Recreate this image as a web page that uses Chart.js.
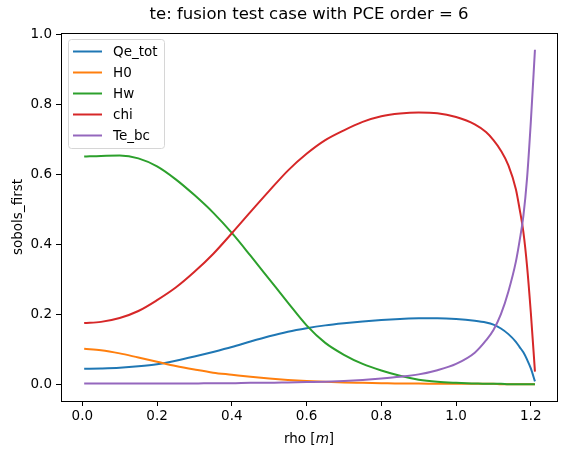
<!DOCTYPE html>
<html>
<head>
<meta charset="utf-8">
<script src="https://cdn.jsdelivr.net/npm/chart.js@4/dist/chart.umd.min.js"></script>
<style>
  html, body { margin: 0; padding: 0; background: #fff; }
  #wrap { width: 567px; height: 457px; }
</style>
</head>
<body>
<div id="wrap"><canvas id="c1" width="567" height="457"></canvas></div>
<script>
// rho values (m)
let rho = [0.005, 0.05, 0.1, 0.15, 0.2, 0.25, 0.3, 0.35, 0.4, 0.45, 0.5, 0.55, 0.6, 0.65, 0.7, 0.75,
           0.8, 0.85, 0.9, 0.95, 1.0, 1.05, 1.08, 1.1, 1.12, 1.14, 1.16, 1.17, 1.18, 1.19, 1.2, 1.211];

let qeTot = [0.044, 0.045, 0.047, 0.051, 0.057, 0.067, 0.079, 0.092, 0.106, 0.122, 0.137, 0.150, 0.160, 0.168, 0.174, 0.179,
             0.183, 0.186, 0.188, 0.188, 0.186, 0.181, 0.176, 0.170, 0.159, 0.143, 0.121, 0.106, 0.091, 0.070, 0.045, 0.008];
let h0 = [0.101, 0.097, 0.088, 0.076, 0.064, 0.052, 0.042, 0.033, 0.027, 0.021, 0.016, 0.012, 0.009, 0.007, 0.005, 0.004,
          0.003, 0.002, 0.002, 0.001, 0.001, 0.001, 0.001, 0.001, 0.0, 0.0, 0.0, 0.0, 0.0, 0.0, 0.0, 0.0];
let hw = [0.650, 0.652, 0.653, 0.645, 0.622, 0.585, 0.540, 0.490, 0.432, 0.367, 0.300, 0.233, 0.168, 0.118, 0.084, 0.058,
          0.039, 0.024, 0.013, 0.007, 0.004, 0.002, 0.001, 0.001, 0.001, 0.0, 0.0, 0.0, 0.0, 0.0, 0.0, 0.0];
let chi = [0.175, 0.178, 0.189, 0.209, 0.240, 0.276, 0.321, 0.372, 0.431, 0.492, 0.552, 0.610, 0.658, 0.697, 0.725, 0.749,
           0.765, 0.773, 0.776, 0.774, 0.763, 0.742, 0.720, 0.697, 0.667, 0.625, 0.557, 0.500, 0.435, 0.336, 0.204, 0.036];
let teBc = [0.002, 0.002, 0.002, 0.002, 0.002, 0.002, 0.002, 0.003, 0.003, 0.004, 0.004, 0.005, 0.006, 0.007, 0.009, 0.012,
            0.016, 0.021, 0.028, 0.040, 0.058, 0.090, 0.125, 0.155, 0.200, 0.265, 0.350, 0.410, 0.480, 0.590, 0.750, 0.955];

let names = ['Qe_tot', 'H0', 'Hw', 'chi', 'Te_bc'];
let colors = ['#1f77b4', '#ff7f0e', '#2ca02c', '#d62728', '#9467bd'];
let series = [qeTot, h0, hw, chi, teBc];

let xTicks = [0, 0.2, 0.4, 0.6, 0.8, 1.0, 1.2];
let yTicks = [0, 0.2, 0.4, 0.6, 0.8, 1.0];

let font = "'DejaVu Sans', sans-serif";

{
    let c1 = document.querySelector('#c1');

    let ds = series.map((s, i) => ({
        label: names[i],
        data: s.map((v, j) => ({ x: rho[j], y: v })),
        borderColor: colors[i],
        backgroundColor: colors[i],
        borderWidth: 2,
        pointRadius: 0,
        fill: false,
        cubicInterpolationMode: 'monotone',
        order: names.length - i,
    }));

    // frame, title, axis labels, legend box
    let deco = {
        id: 'deco',
        afterDraw(chart) {
            let ctx = chart.ctx;
            let a = chart.chartArea;
            ctx.save();
            ctx.strokeStyle = '#000';
            ctx.lineWidth = 1;
            ctx.strokeRect(Math.round(a.left) + 0.5, Math.round(a.top) + 0.5,
                Math.round(a.right - a.left), Math.round(a.bottom - a.top));

            ctx.fillStyle = '#000';
            ctx.textAlign = 'center';
            ctx.textBaseline = 'middle';
            ctx.font = '16.5px ' + font;
            ctx.fillText('te: fusion test case with PCE order = 6', (a.left + a.right) / 2, 15);

            let lab1 = 'rho [';
            let lab2 = ']';
            ctx.font = '13.5px ' + font;
            let w1 = ctx.measureText(lab1).width;
            let w2 = ctx.measureText(lab2).width;
            ctx.font = 'italic 13.5px ' + font;
            let wm = ctx.measureText('m').width;
            let x0 = (a.left + a.right) / 2 - (w1 + wm + w2) / 2;
            ctx.textAlign = 'left';
            ctx.font = '13.5px ' + font;
            ctx.fillText(lab1, x0, 439);
            ctx.font = 'italic 13.5px ' + font;
            ctx.fillText('m', x0 + w1, 439);
            ctx.font = '13.5px ' + font;
            ctx.fillText(lab2, x0 + w1 + wm, 439);

            ctx.save();
            ctx.translate(18, (a.top + a.bottom) / 2);
            ctx.rotate(-Math.PI / 2);
            ctx.textAlign = 'center';
            ctx.fillText('sobols_first', 0, 0);
            ctx.restore();

            // legend
            let bx = 68.5, by = 39.5, bw = 96, bh = 109, r = 3;
            ctx.beginPath();
            ctx.moveTo(bx + r, by);
            ctx.arcTo(bx + bw, by, bx + bw, by + bh, r);
            ctx.arcTo(bx + bw, by + bh, bx, by + bh, r);
            ctx.arcTo(bx, by + bh, bx, by, r);
            ctx.arcTo(bx, by, bx + bw, by, r);
            ctx.closePath();
            ctx.fillStyle = 'rgba(255,255,255,0.8)';
            ctx.fill();
            ctx.strokeStyle = '#d6d6d6';
            ctx.stroke();

            ctx.font = '13.5px ' + font;
            ctx.textAlign = 'left';
            chart.data.datasets.forEach((d, i) => {
                let yy = 51.5 + i * 21;
                ctx.strokeStyle = d.borderColor;
                ctx.lineWidth = 2;
                ctx.beginPath();
                ctx.moveTo(73, yy);
                ctx.lineTo(102, yy);
                ctx.stroke();
                ctx.fillStyle = '#000';
                ctx.fillText(d.label, 113, yy + 1);
            });
            ctx.restore();
        }
    };

    let opts = {
        type: 'line',
        data: { datasets: ds },
        options: {
            responsive: false,
            animation: false,
            layout: { padding: { top: 33, right: 10, left: 0, bottom: 0 } },
            plugins: {
                legend: { display: false },
                title: { display: false },
                tooltip: { enabled: false },
            },
            scales: {
                x: {
                    type: 'linear',
                    min: -0.057,
                    max: 1.27,
                    afterBuildTicks: (s) => { s.ticks = xTicks.map(v => ({ value: v })); },
                    afterFit: (s) => { s.height = 56; },
                    ticks: {
                        color: '#000',
                        font: { family: font, size: 13.5 },
                        padding: 2,
                        maxRotation: 0,
                        callback: (v) => Number(v).toFixed(1),
                    },
                    grid: { drawOnChartArea: false, drawTicks: true, tickLength: 5, color: '#000' },
                    border: { display: true, color: '#000' },
                },
                y: {
                    type: 'linear',
                    min: -0.048,
                    max: 1.003,
                    afterBuildTicks: (s) => { s.ticks = yTicks.map(v => ({ value: v })); },
                    afterFit: (s) => { s.width = 61; },
                    ticks: {
                        color: '#000',
                        font: { family: font, size: 13.5 },
                        padding: 4,
                        callback: (v) => Number(v).toFixed(1),
                    },
                    grid: { drawOnChartArea: false, drawTicks: true, tickLength: 5, color: '#000' },
                    border: { display: true, color: '#000' },
                },
            },
        },
        plugins: [deco],
    };

    let chart1 = new Chart(c1, opts);
}
</script>
</body>
</html>
